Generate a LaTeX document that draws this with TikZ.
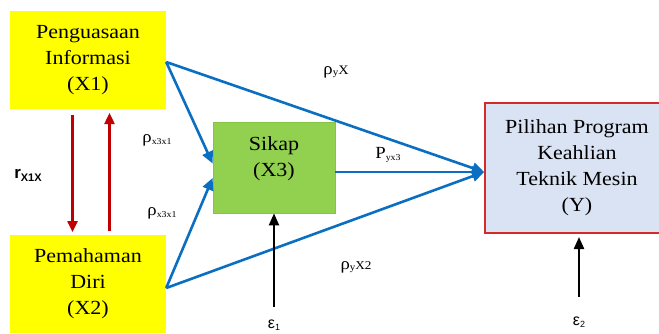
\documentclass[tikz,border=0pt]{standalone}
\usepackage{fontspec}
\setmainfont{Liberation Serif}[FakeStretch=1.1]
\newfontfamily\lsans{Liberation Sans}
\usetikzlibrary{arrows.meta}
\definecolor{yel}{HTML}{FFFF00}
\definecolor{grn}{HTML}{92D050}
\definecolor{grnb}{HTML}{86C446}
\definecolor{ybox}{HTML}{DAE3F3}
\definecolor{yred}{HTML}{D42A2A}
\definecolor{blu}{HTML}{0A6FC2}
\definecolor{dred}{HTML}{C00000}
\newcommand\fs[1]{\fontsize{#1}{#1}\selectfont}
\tikzset{
  boxtext/.style={align=center,font=\fontsize{20}{26}\selectfont,inner sep=0pt},
  ybx/.style={fill=yel,minimum width=156pt,minimum height=98pt,boxtext},
  bluarr/.style={draw=blu,line width=2.6pt,-{Triangle[length=12pt,width=11pt]}},
  redarr/.style={draw=dred,line width=2.4pt,-{Triangle[length=11pt,width=10pt]}},
  blkarr/.style={draw=black,line width=2.2pt,-{Triangle[length=12pt,width=10pt]}},
  lab/.style={inner sep=0pt}
}
\begin{document}
\begin{tikzpicture}[x=1pt,y=-1pt]
\useasboundingbox (0,0) rectangle (659,333);
\clip (0,0) rectangle (659,333);
% boxes
\node[ybx] (x1) at (88,60) {Penguasaan\\Informasi\\(X1)};
\node[ybx] (x2) at (88,284) {Pemahaman\\Diri\\(X2)};
\node[fill=grn,draw=grnb,line width=0.8pt,minimum width=122pt,minimum height=91pt] (x3) at (274,167.5) {};
\node[boxtext] (x3t) at (274,159) {Sikap\\(X3)};
\node[fill=ybox,draw=yred,line width=1.8pt,minimum width=184pt,minimum height=130pt,boxtext] (y) at (577,168) {Pilihan Program\\Keahlian\\Teknik Mesin\\(Y)};
% blue arrows
\draw[bluarr] ([yshift=-2pt]x1.east) -- ([yshift=4pt]x3.west);
\draw[bluarr] ([yshift=-4pt]x2.east) -- ([yshift=-10.5pt]x3.west);
\draw[bluarr] ([yshift=-2pt]x1.east) -- ([yshift=-4pt]y.west);
\draw[bluarr] ([yshift=-4pt]x2.east) -- ([yshift=-4pt]y.west);
\draw[bluarr] ([yshift=-4.5pt]x3.east) -- ([yshift=-4pt]y.west);
% red arrows
\coordinate (ra1) at (72.5,115);
\coordinate (ra2) at (72.5,232);
\coordinate (rb1) at (109.5,231);
\coordinate (rb2) at (109.5,113);
\draw[redarr] (ra1) -- (ra2);
\draw[redarr] (rb1) -- (rb2);
% black arrows
\coordinate (e1s) at (274,307);
\coordinate (e2s) at (579,297);
\coordinate (e2t) at (579,237);
\draw[blkarr] (e1s) -- (x3.south);
\draw[blkarr] (e2s) -- (e2t);
% labels
\node[lab] (rx) at (28,175) {\lsans\bfseries\fs{17}r\raisebox{-3pt}{\fs{11}X1X}};
\node[lab] (p1) at (157,140) {\fs{17}ρ\raisebox{-2pt}{\fs{9}x3x1}};
\node[lab] (p2) at (162,213) {\fs{17}ρ\raisebox{-2pt}{\fs{9}x3x1}};
\node[lab] (pyx) at (336,72) {\fs{17}ρ\raisebox{-1pt}{\fs{10}y}\fs{13}X};
\node[lab] (pyx3) at (388,155) {\fs{17}P\raisebox{-2pt}{\fs{9}yx3}};
\node[lab] (pyx2) at (356,267) {\fs{17}ρ\raisebox{-1pt}{\fs{10}y}\fs{12}X2};
\node[lab] (e1) at (274,325) {\lsans\fs{16}ε\raisebox{-2pt}{\fs{9}1}};
\node[lab] (e2) at (579,322) {\lsans\fs{16}ε\raisebox{-2pt}{\fs{9}2}};
\end{tikzpicture}
\end{document}
